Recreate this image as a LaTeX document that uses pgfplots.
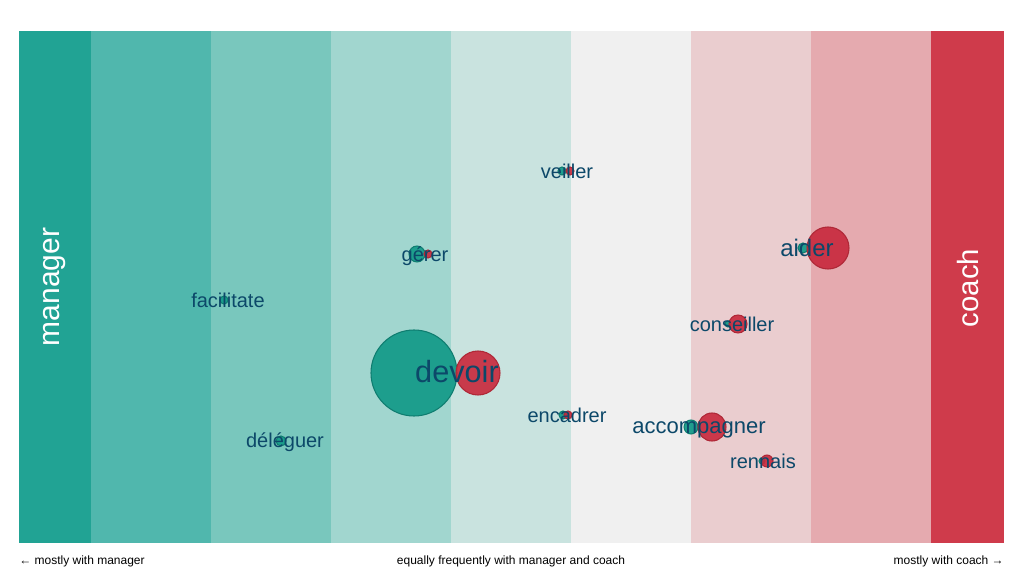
\documentclass[border=0pt]{standalone}
\usepackage{fontspec}
\setmainfont{Liberation Sans}
\usepackage{pgfplots}
\pgfplotsset{compat=1.18}
\usepackage{pgfplotstable}

\definecolor{b1}{RGB}{33,163,148}
\definecolor{b2}{RGB}{80,183,173}
\definecolor{b3}{RGB}{121,199,189}
\definecolor{b4}{RGB}{161,214,207}
\definecolor{b5}{RGB}{201,227,223}
\definecolor{b6}{RGB}{240,240,240}
\definecolor{b7}{RGB}{234,205,207}
\definecolor{b8}{RGB}{229,170,175}
\definecolor{b9}{RGB}{207,59,75}
\definecolor{tealb}{RGB}{22,155,138}
\definecolor{teald}{RGB}{15,125,112}
\definecolor{redb}{RGB}{200,40,60}
\definecolor{redd}{RGB}{175,40,55}
\definecolor{txt}{RGB}{12,72,105}

\tikzset{lab/.style={text=txt, inner sep=0pt, anchor=center}}

\pgfplotstableread{
x y r
414 373 43
562 171 4
417 254 8
803 248 5
728 324 3
563 415 4
691 427 7
762 461 3
224 300 4
281 441 5
}\tealtab

\pgfplotstableread{
x y r
478 373 22
570 171 4
428 254 4
828 248 21
738 324 9
568 415 4
712 427 14
767 461 6
}\redtab

\pgfplotstableread{
x y label
567 171 veiller
425 256 gérer
732 324 conseiller
567 415 encadrer
763 461 rennais
228 300 facilitate
285 442 déléguer
}\labtab

\pgfplotsset{labplot/.style={only marks, mark=*, mark size=0pt,
  mark options={draw=none, fill=none},
  nodes near coords, point meta=explicit symbolic,
  nodes near coords align={center},
  every node near coord/.append style={lab, font=#1}}}

\begin{document}
\begin{tikzpicture}
\path[use as bounding box, fill=white] (0pt,0pt) rectangle (768pt,432.75pt);
\begin{axis}[
  at={(383.625pt,217.5pt)}, anchor=center,
  scale only axis, width=738.75pt, height=384pt,
  xmin=19, xmax=1004, ymin=31, ymax=543, y dir=reverse,
  axis lines=none, ticks=none, clip=false,
]
\addplot[fill=b1, draw=none] coordinates {(19,31) (91,31) (91,543) (19,543)};
\addplot[fill=b2, draw=none] coordinates {(91,31) (211,31) (211,543) (91,543)};
\addplot[fill=b3, draw=none] coordinates {(211,31) (331,31) (331,543) (211,543)};
\addplot[fill=b4, draw=none] coordinates {(331,31) (451,31) (451,543) (331,543)};
\addplot[fill=b5, draw=none] coordinates {(451,31) (571,31) (571,543) (451,543)};
\addplot[fill=b6, draw=none] coordinates {(571,31) (691,31) (691,543) (571,543)};
\addplot[fill=b7, draw=none] coordinates {(691,31) (811,31) (811,543) (691,543)};
\addplot[fill=b8, draw=none] coordinates {(811,31) (931,31) (931,543) (811,543)};
\addplot[fill=b9, draw=none] coordinates {(931,31) (1004,31) (1004,543) (931,543)};

\addplot[scatter, only marks, mark=*,
  scatter/use mapped color={draw=teald, fill=tealb},
  fill opacity=0.95, line width=0.8pt,
  visualization depends on={\thisrow{r}\as\rad},
  scatter/@pre marker code/.append style={/tikz/mark size=0.75*\rad}]
  table[x=x,y=y] {\tealtab};
\addplot[scatter, only marks, mark=*,
  scatter/use mapped color={draw=redd, fill=redb},
  fill opacity=0.9, line width=0.8pt,
  visualization depends on={\thisrow{r}\as\rad},
  scatter/@pre marker code/.append style={/tikz/mark size=0.75*\rad}]
  table[x=x,y=y] {\redtab};

\addplot[labplot={\fontsize{15}{18}\selectfont}] table[x=x,y=y,meta=label] {\labtab};
\addplot[labplot={\fontsize{23}{28}\selectfont}] table[meta=label] {
x y label
457 372 devoir
};
\addplot[labplot={\fontsize{18}{22}\selectfont}] table[meta=label] {
x y label
807 248 aider
};
\addplot[labplot={\fontsize{16.5}{20}\selectfont}] table[meta=label] {
x y label
699 430 accompagner
};

\node[rotate=90, text=white, inner sep=0pt, font=\fontsize{22.5}{27}\selectfont] at (axis cs:55,287) {manager};
\node[rotate=90, text=white, inner sep=0pt, font=\fontsize{22}{27}\selectfont] at (axis cs:968,288) {coach};

\node[anchor=west, inner sep=0pt, font=\fontsize{9}{11}\selectfont] at (axis cs:19,561) {← mostly with manager};
\node[anchor=center, inner sep=0pt, font=\fontsize{9}{11}\selectfont] at (axis cs:511,561) {equally frequently with manager and coach};
\node[anchor=east, inner sep=0pt, font=\fontsize{9}{11}\selectfont] at (axis cs:1004,561) {mostly with coach →};
\end{axis}
\end{tikzpicture}
\end{document}
